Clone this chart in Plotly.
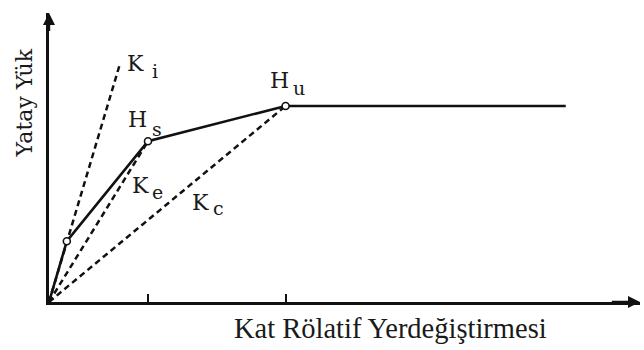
import plotly.graph_objects as go

# Capacity curve (drift, load) in normalized units
curve_x = [0.0, 0.18, 1.0, 2.39, 5.22]
curve_y = [0.0, 0.31, 0.82, 1.0, 1.0]
marker_idx = [1, 2, 3]

# Stiffness lines (from origin)
ki_x = [0.0, 0.72]
ki_y = [0.0, 1.22]
ke_x = [0.0, 1.0]
ke_y = [0.0, 0.82]
kc_x = [0.0, 2.39]
kc_y = [0.0, 1.0]

tick_vals = [1.0, 2.39]

# Labels: main letter + subscript
label_main = ["K", "H", "H", "K", "K"]
label_sub = ["i", "s", "u", "e", "c"]
main_x = [0.970, 1.000, 2.434, 1.020, 1.626]
main_y = [1.214, 0.931, 1.130, 0.592, 0.508]
sub_x = [1.030, 1.030, 2.455, 1.030, 1.646]
sub_y = [1.180, 0.884, 1.090, 0.562, 0.481]

x_title = "Kat Rölatif Yerdeğiştirmesi"
y_title = "Yatay Yük"

XMAX = 5.97
YMAX = 1.474

fig = go.Figure()
dash = "6px,4px"
for xs, ys in [(ki_x, ki_y), (ke_x, ke_y), (kc_x, kc_y)]:
    fig.add_trace(go.Scatter(x=xs, y=ys, mode="lines",
                             line=dict(color="#111", width=2.5, dash=dash),
                             hoverinfo="skip", showlegend=False))
fig.add_trace(go.Scatter(x=curve_x, y=curve_y, mode="lines",
                         line=dict(color="#111", width=2.6),
                         showlegend=False))
fig.add_trace(go.Scatter(x=[curve_x[i] for i in marker_idx],
                         y=[curve_y[i] for i in marker_idx],
                         mode="markers",
                         marker=dict(size=7, color="white",
                                     line=dict(color="#111", width=1.6)),
                         showlegend=False))

annotations = []
lab_font = dict(family="DejaVu Serif", size=22, color="#1a1a1a")
sub_font = dict(family="DejaVu Serif", size=19, color="#1a1a1a")
for t, x, y in zip(label_main, main_x, main_y):
    annotations.append(dict(x=x, y=y, xref="x", yref="y", text=t, borderpad=0,
                            showarrow=False, xanchor="right", yanchor="middle",
                            font=lab_font))
for t, x, y in zip(label_sub, sub_x, sub_y):
    annotations.append(dict(x=x, y=y, xref="x", yref="y", text=t, borderpad=0,
                            showarrow=False, xanchor="left", yanchor="middle",
                            font=sub_font))
# axis arrows
annotations.append(dict(x=XMAX, y=0, ax=XMAX - 0.3, ay=0, xref="x", yref="y",
                        axref="x", ayref="y", text="", showarrow=True,
                        arrowhead=2, arrowsize=1, arrowwidth=2.4, arrowcolor="#111"))
annotations.append(dict(x=0, y=YMAX, ax=0, ay=YMAX - 0.1, xref="x", yref="y",
                        axref="x", ayref="y", text="", showarrow=True,
                        arrowhead=2, arrowsize=1, arrowwidth=2.4, arrowcolor="#111"))
annotations.append(dict(x=0.578, y=-0.093, xref="paper", yref="paper", text=x_title,
                        showarrow=False, xanchor="center", yanchor="middle",
                        font=dict(family="Liberation Serif", size=28.5, color="#1a1a1a")))
annotations.append(dict(x=-0.0423, y=0.687, xref="paper", yref="paper", text=y_title,
                        showarrow=False, xanchor="center", yanchor="middle", textangle=-90,
                        font=dict(family="DejaVu Serif", size=22, color="#1a1a1a")))

fig.update_layout(
    width=644, height=350,
    margin=dict(l=49, r=4, t=13, b=48),
    paper_bgcolor="white", plot_bgcolor="white",
    xaxis=dict(range=[0, XMAX], showline=True, linecolor="#111", linewidth=2.6,
               ticks="inside", tickvals=tick_vals, ticklen=8, tickwidth=2,
               tickcolor="#111", showticklabels=False, showgrid=False, zeroline=False),
    yaxis=dict(range=[0, YMAX], showline=True, linecolor="#111", linewidth=2.6,
               ticks="", showticklabels=False, showgrid=False, zeroline=False),
    annotations=annotations,
)
fig.write_html("out.html", config={"displayModeBar": False},
               post_script="document.body.style.margin='0px';")
